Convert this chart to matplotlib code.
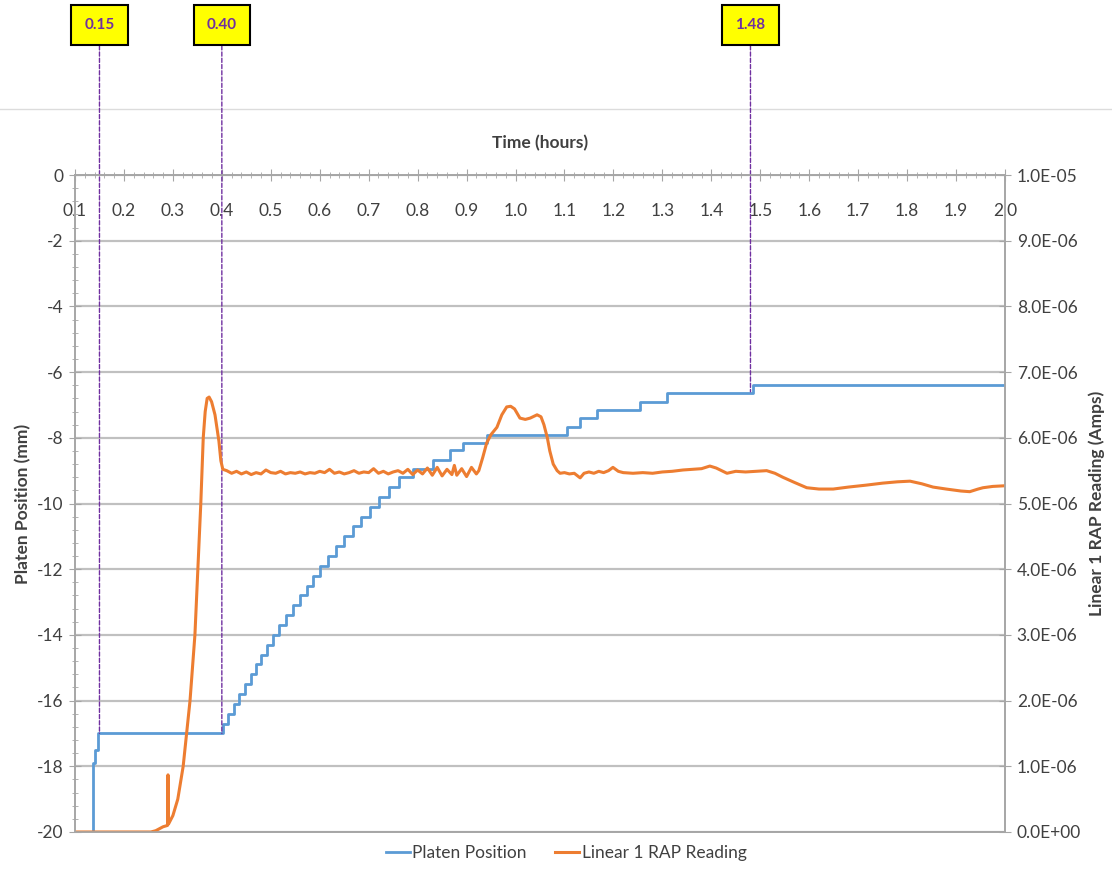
import matplotlib
matplotlib.use('Agg')
import matplotlib.pyplot as plt
from matplotlib.ticker import MultipleLocator, AutoMinorLocator, FuncFormatter
from matplotlib.lines import Line2D

plt.rcParams['font.family'] = ['Lato', 'DejaVu Sans']
plt.rcParams['axes.unicode_minus'] = False

# platen position (mm), step changes: time (h) -> new level
plat_t = [0.100, 0.137, 0.141, 0.146,
          0.402, 0.413, 0.425, 0.436, 0.447, 0.459, 0.470, 0.481, 0.492, 0.504,
          0.517, 0.531, 0.545, 0.559, 0.573, 0.587, 0.601, 0.617, 0.633, 0.650,
          0.667, 0.685, 0.703, 0.722, 0.742, 0.762, 0.790, 0.831, 0.866, 0.893,
          0.942, 1.105, 1.132, 1.166, 1.254, 1.309, 1.485, 2.000]
plat_mm = [-20.0, -17.9, -17.5, -17.0,
           -16.7, -16.4, -16.1, -15.8, -15.5, -15.2, -14.9, -14.6, -14.3, -14.0,
           -13.7, -13.4, -13.1, -12.8, -12.5, -12.2, -11.9, -11.6, -11.3, -11.0,
           -10.7, -10.4, -10.1, -9.8, -9.5, -9.2, -8.95, -8.67, -8.37, -8.16,
           -7.92, -7.67, -7.40, -7.15, -6.90, -6.64, -6.39, -6.39]

# Linear 1 RAP reading, in 1e-6 A
rap_t = [0.100, 0.255, 0.265, 0.280, 0.289, 0.290, 0.291, 0.300, 0.310, 0.321,
         0.328, 0.335, 0.340, 0.345, 0.351, 0.357, 0.362, 0.366, 0.370, 0.374,
         0.379, 0.386, 0.390, 0.394, 0.398, 0.402,
         0.41, 0.42, 0.43, 0.44, 0.45, 0.46, 0.47, 0.48, 0.49, 0.50,
         0.51, 0.52, 0.53, 0.54, 0.55, 0.56, 0.57, 0.58, 0.59, 0.60,
         0.61, 0.62, 0.63, 0.64, 0.65, 0.66, 0.67, 0.68, 0.69, 0.70,
         0.71, 0.72, 0.73, 0.74, 0.75, 0.76, 0.77, 0.78, 0.79, 0.80,
         0.81, 0.82, 0.83, 0.84, 0.85, 0.86, 0.87, 0.875, 0.88, 0.89,
         0.90, 0.91, 0.92,
         0.925, 0.933, 0.941, 0.950, 0.962, 0.972, 0.982, 0.990, 0.998, 1.009,
         1.020, 1.030, 1.044, 1.052, 1.058, 1.065, 1.070, 1.077, 1.085, 1.091,
         1.10, 1.11, 1.12, 1.132, 1.14, 1.15, 1.16, 1.17, 1.18, 1.19,
         1.199, 1.21, 1.22, 1.24, 1.26, 1.28, 1.30, 1.32, 1.342, 1.36,
         1.38, 1.397, 1.41, 1.432, 1.45, 1.47, 1.49, 1.513, 1.53, 1.546,
         1.57, 1.595, 1.62, 1.649, 1.68, 1.717, 1.75, 1.78, 1.806, 1.83,
         1.853, 1.88, 1.91, 1.928, 1.945, 1.955, 1.975, 2.00]
rap_uA = [0.00, 0.00, 0.02, 0.08, 0.10, 0.87, 0.12, 0.25, 0.50, 1.00,
          1.50, 2.00, 2.50, 3.00, 4.00, 5.00, 6.00, 6.40, 6.60, 6.62,
          6.55, 6.35, 6.15, 5.95, 5.65, 5.52,
          5.50, 5.46, 5.49, 5.45, 5.48, 5.44, 5.47, 5.45, 5.51, 5.47,
          5.46, 5.49, 5.45, 5.47, 5.46, 5.48, 5.45, 5.47, 5.46, 5.49,
          5.47, 5.52, 5.46, 5.48, 5.45, 5.47, 5.50, 5.46, 5.48, 5.47,
          5.53, 5.46, 5.49, 5.45, 5.48, 5.50, 5.46, 5.52, 5.44, 5.51,
          5.45, 5.54, 5.43, 5.55, 5.42, 5.52, 5.44, 5.58, 5.43, 5.53,
          5.41, 5.55, 5.45,
          5.50, 5.70, 5.92, 6.05, 6.16, 6.35, 6.47, 6.48, 6.44, 6.30,
          6.28, 6.30, 6.35, 6.32, 6.20, 6.00, 5.80, 5.60, 5.50, 5.46,
          5.47, 5.45, 5.46, 5.39, 5.46, 5.48, 5.46, 5.49, 5.47, 5.50,
          5.55, 5.49, 5.47, 5.46, 5.47, 5.46, 5.48, 5.49, 5.51, 5.52,
          5.53, 5.57, 5.54, 5.46, 5.49, 5.48, 5.49, 5.50, 5.46, 5.40,
          5.32, 5.24, 5.22, 5.22, 5.25, 5.28, 5.31, 5.33, 5.34, 5.30,
          5.25, 5.22, 5.19, 5.18, 5.22, 5.24, 5.26, 5.27]

marks_t = [0.15, 0.40, 1.48]
marks_y = [-17.0, -17.0, -6.6]
marks_txt = ['0.15', '0.40', '1.48']

blue = '#5B9BD5'
orange = '#ED7D31'
purple = '#7030A0'
axis_gray = '#a6a6a6'
text_gray = '#404040'

fig = plt.figure(figsize=(11.12, 8.69), dpi=100)
ax = fig.add_axes([75/1112, 1-832/869, 930/1112, 657/869])
ax2 = ax.twinx()

# separator line across the top of the figure
fig.add_artist(Line2D([0, 1], [1-109/869, 1-109/869], transform=fig.transFigure,
                      color='#dcdcdc', lw=1, zorder=0))

l1, = ax.plot(plat_t, plat_mm, drawstyle='steps-post', color=blue, lw=2, zorder=3)
l2, = ax2.plot(rap_t, [v*1e-6 for v in rap_uA], color=orange, lw=2.2)

ax.set_xlim(0.1, 2.0)
ax.set_ylim(-20, 0)
ax2.set_ylim(0, 1e-5)

ax.xaxis.set_major_locator(MultipleLocator(0.1))
ax.xaxis.set_minor_locator(MultipleLocator(0.02))
ax.xaxis.set_major_formatter(FuncFormatter(lambda v, p: f'{v:.1f}'))
ax.yaxis.set_major_locator(MultipleLocator(2))
ax.yaxis.set_minor_locator(AutoMinorLocator(5))
ax2.yaxis.set_major_locator(MultipleLocator(1e-6))
ax2.yaxis.set_major_formatter(FuncFormatter(lambda v, p: f'{v:.1E}'))

ax.tick_params(axis='x', which='both', top=True, bottom=False, labeltop=True,
               labelbottom=False, direction='inout', colors=axis_gray,
               labelcolor=text_gray, labelsize=12.5)
ax.tick_params(axis='x', which='major', length=9, pad=-36)
ax.tick_params(axis='x', which='minor', length=5)
ax.tick_params(axis='y', which='both', direction='inout', colors=axis_gray,
               labelcolor=text_gray, labelsize=12.5)
ax.tick_params(axis='y', which='major', length=9, pad=4)
ax.tick_params(axis='y', which='minor', length=5)
ax2.tick_params(axis='y', direction='inout', length=9, colors=axis_gray,
                labelcolor=text_gray, labelsize=12.5, pad=4)

ax.yaxis.grid(True, color='#c0c0c0', lw=1.6)
ax.set_axisbelow(True)
for a in (ax, ax2):
    for s in a.spines.values():
        s.set_color(axis_gray)
        s.set_linewidth(1.2)

ax.set_ylabel('Platen Position (mm)', fontsize=12.5, fontweight='bold',
              color=text_gray, labelpad=4)
ax2.set_ylabel('Linear 1 RAP Reading (Amps)', fontsize=12.5, fontweight='bold',
               color=text_gray, labelpad=5)
ax.text(0.5, 1 + 32/657, 'Time (hours)', transform=ax.transAxes, ha='center',
        va='center', fontsize=12.5, fontweight='bold', color=text_gray)

for t, y, s in zip(marks_t, marks_y, marks_txt):
    ax.annotate(s, xy=(t, y), xytext=(t, 1-25/869), textcoords=('data', 'figure fraction'),
                ha='center', va='center', fontsize=11, fontweight='bold', color=purple,
                bbox=dict(boxstyle='square,pad=0.85', fc='#FFFF00', ec='black', lw=1.5),
                arrowprops=dict(arrowstyle='-', color=purple, lw=1, ls=(0, (3, 1.5)),
                                shrinkA=0, shrinkB=0),
                annotation_clip=False, zorder=6)

fig.legend([l1, l2], ['Platen Position', 'Linear 1 RAP Reading'], loc='center',
           bbox_to_anchor=(566/1112, 1-853/869), ncol=2, frameon=False, fontsize=12.5,
           handlelength=1.4, handletextpad=0.15, columnspacing=1.6, labelcolor=text_gray)

fig.savefig('out.png', dpi=100)
